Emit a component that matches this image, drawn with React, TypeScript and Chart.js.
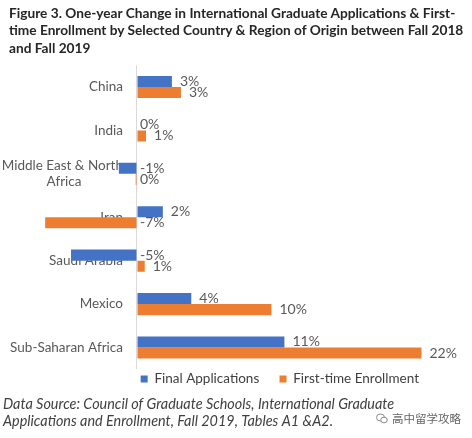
import React, { useEffect, useRef } from "react";
import { Chart, registerables } from "chart.js";

Chart.register(...registerables);

const NB = "\u00a0";
const categories: (string | string[])[] = [
  "China",
  "India",
  ["Middle East & North", "Africa" + NB.repeat(12)],
  "Iran",
  "Saudi Arabia",
  "Mexico",
  "Sub-Saharan Africa",
];
const finalApplications = [2.7, 0, -1.4, 2.0, -5.1, 4.2, 11.4];
const firstTimeEnrollment = [3.4, 0.7, -0.1, -7.1, 0.6, 10.4, 22.0];
const seriesNames = ["Final Applications", "First-time Enrollment"];
const seriesColors = ["#4472C4", "#ED7D31"];
const titleLines = [
  "Figure 3. One-year Change in International Graduate Applications & First-",
  "time Enrollment by Selected Country & Region of Origin between Fall 2018",
  "and Fall 2019",
];
const sourceLines = [
  "Data Source: Council of Graduate Schools, International Graduate",
  "Applications and Enrollment, Fall 2019, Tables A1 &A2.",
];
const watermark = "高中留学攻略";

const X_MIN = -10.36;
const X_MAX = 22.04;
const LABEL_GAP_VALUE = -1.083; // category labels end 14px left of zero

const valueLabels = {
  id: "valueLabels",
  afterDatasetsDraw(chart: any) {
    const ctx = chart.ctx;
    const zero = chart.scales.x.getPixelForValue(0);
    ctx.save();
    ctx.font = "14px Lato";
    ctx.fillStyle = "#595959";
    ctx.textBaseline = "middle";
    ctx.textAlign = "left";
    chart.data.datasets.forEach((ds: any, di: number) => {
      const meta = chart.getDatasetMeta(di);
      meta.data.forEach((bar: any, i: number) => {
        const v = ds.data[i] as number;
        const r = Math.round(v);
        const txt = `${r === 0 ? 0 : r}%`;
        const x = v > 0.05 ? bar.x + 8 : zero + 3;
        ctx.fillText(txt, x, bar.y);
      });
    });
    ctx.restore();
  },
};

export default function App() {
  const ref = useRef<HTMLCanvasElement | null>(null);

  useEffect(() => {
    if (!ref.current) return;
    const chart = new Chart(ref.current, {
      type: "bar",
      data: {
        labels: categories,
        datasets: [
          {
            label: seriesNames[0],
            data: finalApplications,
            backgroundColor: seriesColors[0],
            barPercentage: 1,
            categoryPercentage: 0.51,
          },
          {
            label: seriesNames[1],
            data: firstTimeEnrollment,
            backgroundColor: seriesColors[1],
            barPercentage: 1,
            categoryPercentage: 0.51,
          },
        ],
      },
      options: {
        indexAxis: "y",
        animation: false,
        responsive: false,
        devicePixelRatio: 1,
        layout: { padding: { left: 3, right: 50, top: 65.3, bottom: 0 } },
        scales: {
          x: {
            type: "linear",
            min: X_MIN,
            max: X_MAX,
            display: true,
            ticks: { display: false },
            afterBuildTicks: (s: any) => {
              s.ticks = [{ value: 0 }];
            },
            grid: {
              display: true,
              drawTicks: false,
              color: "#d9d9d9",
              lineWidth: 1,
            },
            border: { display: false },
          },
          y: {
            position: { x: LABEL_GAP_VALUE } as any,
            z: 1,
            grid: { display: false, drawTicks: false },
            border: { display: false },
            ticks: {
              padding: 0,
              color: "#595959",
              font: { family: "Lato", size: 13.5 },
            },
          },
        },
        plugins: {
          title: { display: false },
          subtitle: {
            display: true,
            position: "bottom",
            text: sourceLines,
            align: "start",
            color: "#404040",
            font: { family: "Lato", size: 14.4, style: "italic", lineHeight: 17 / 14.4 },
            padding: { top: 0, bottom: 8.3 },
          },
          legend: {
            position: "bottom",
            align: "end",
            labels: {
              boxWidth: 7,
              boxHeight: 7,
              padding: 3,
              color: "#404040",
              font: { family: "Lato", size: 13.5 },
              generateLabels(c: any) {
                const items = Chart.defaults.plugins.legend.labels.generateLabels(c);
                return items.map((it: any, i: number) => ({
                  ...it,
                  text: i === 0 ? it.text + NB.repeat(5) : it.text,
                }));
              },
            },
          },
          tooltip: { enabled: false },
        },
      },
      plugins: [valueLabels],
    } as any);
    return () => chart.destroy();
  }, []);

  return (
    <div style={{ position: "absolute", left: 0, top: 0, width: 472, height: 438, background: "#fff" }}>
      <canvas ref={ref} width={472} height={438} style={{ display: "block" }} />
      <div
        style={{
          position: "absolute",
          left: 9,
          top: 3.5,
          fontFamily: "Lato, sans-serif",
          fontWeight: 700,
          fontSize: 13.7,
          lineHeight: "17.5px",
          color: "#262626",
          whiteSpace: "nowrap",
        }}
      >
        {titleLines.map((t) => (
          <div key={t}>{t}</div>
        ))}
      </div>
      <div
        style={{
          position: "absolute",
          left: 376,
          top: 410,
          display: "flex",
          alignItems: "center",
          gap: 4,
          color: "#666",
          fontFamily: "'Noto Sans CJK SC', sans-serif",
          fontSize: 11.5,
          lineHeight: "16px",
        }}
      >
        <svg width="12" height="11" viewBox="0 0 12 11">
          <ellipse cx="4.5" cy="4.5" rx="4" ry="3.5" fill="none" stroke="#888" strokeWidth="1" />
          <ellipse cx="8" cy="7" rx="3.3" ry="2.8" fill="#fff" stroke="#888" strokeWidth="1" />
        </svg>
        <span>{watermark}</span>
      </div>
    </div>
  );
}
